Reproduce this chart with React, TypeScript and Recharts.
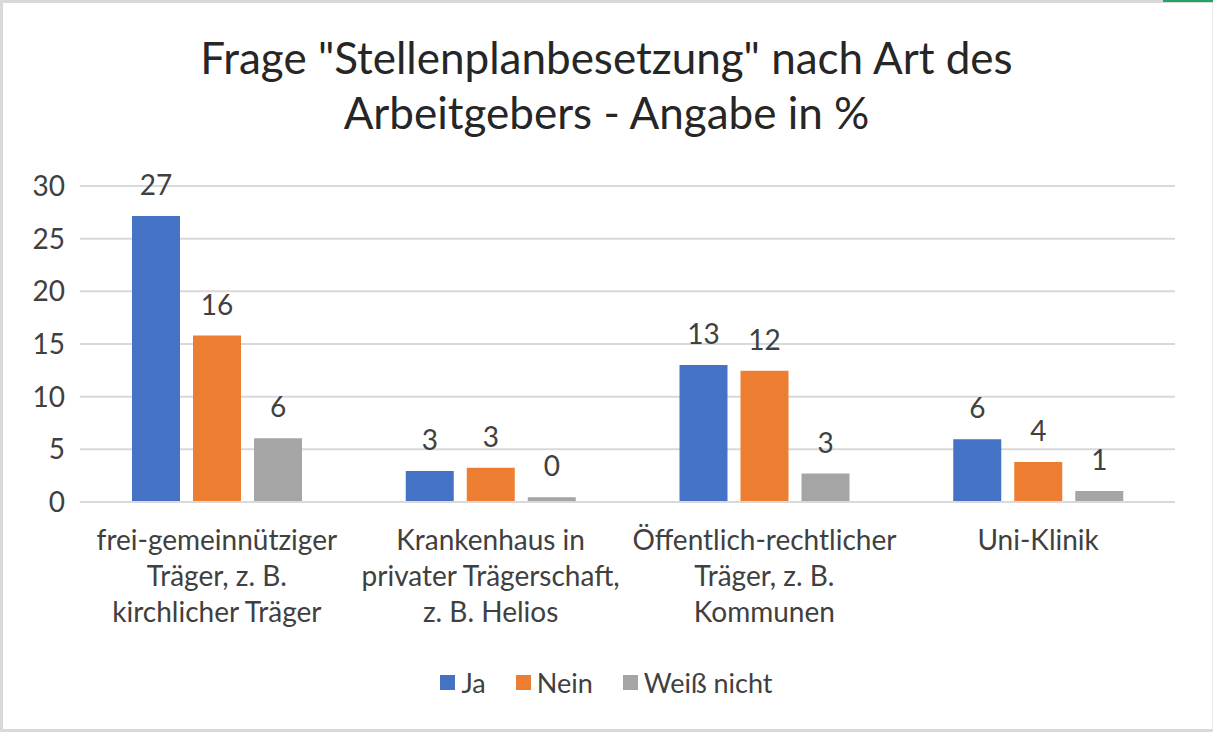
import { Bar, BarChart, CartesianGrid, LabelList, Legend, XAxis, YAxis } from "recharts";

const categories = [
  "frei-gemeinnütziger Träger, z. B. kirchlicher Träger",
  "Krankenhaus in privater Trägerschaft, z. B. Helios",
  "Öffentlich-rechtlicher Träger, z. B. Kommunen",
  "Uni-Klinik",
];
const categoryLines = [
  ["frei-gemeinnütziger", "Träger, z. B.", "kirchlicher Träger"],
  ["Krankenhaus in", "privater Trägerschaft,", "z. B. Helios"],
  ["Öffentlich-rechtlicher", "Träger, z. B.", "Kommunen"],
  ["Uni-Klinik"],
];
const ja = [27.15, 2.95, 13.0, 5.95];
const nein = [15.8, 3.25, 12.45, 3.8];
const weissNicht = [6.05, 0.45, 2.7, 1.05];
const yTicks = [0, 5, 10, 15, 20, 25, 30];

const FONT = "Lato, 'Open Sans', sans-serif";
const TEXT = "#404040";

const data = categories.map((name, i) => ({
  name,
  ja: ja[i],
  nein: nein[i],
  weiss: weissNicht[i],
}));

function CategoryTick({ x, y, payload }: any) {
  const lines = categoryLines[categories.indexOf(payload.value)] ?? [payload.value];
  return (
    <text x={x} y={y} textAnchor="middle" fill={TEXT} fontSize={28} fontFamily={FONT}>
      {lines.map((line, i) => (
        <tspan key={i} x={x} dy={i === 0 ? 40 : 36}>
          {line}
        </tspan>
      ))}
    </text>
  );
}

function LegendContent({ payload }: any) {
  return (
    <div style={{ display: "flex", justifyContent: "center", gap: 30, fontFamily: FONT, fontSize: 27, color: TEXT }}>
      {(payload ?? []).map((entry: any) => (
        <div key={entry.value} style={{ display: "flex", alignItems: "center", gap: 6 }}>
          <span style={{ width: 15, height: 15, background: entry.color, display: "inline-block" }} />
          <span>{entry.value}</span>
        </div>
      ))}
    </div>
  );
}

const labelStyle = { fill: TEXT, fontSize: 28, fontFamily: FONT };
const round = (v: any) => Math.round(Number(v));

export default function App() {
  return (
    <div style={{ position: "absolute", left: 0, top: 0, width: 1213, height: 732, background: "#fff" }}>
      <div
        style={{
          position: "absolute",
          left: 0,
          top: 30,
          width: 1213,
          textAlign: "center",
          fontFamily: FONT,
          fontSize: 44,
          lineHeight: "55px",
          color: "#262626",
        }}
      >
        Frage "Stellenplanbesetzung" nach Art des
        <br />
        Arbeitgebers - Angabe in %
      </div>
      <BarChart
        width={1213}
        height={732}
        data={data}
        margin={{ top: 186, right: 38, bottom: 0, left: 0 }}
        barCategoryGap="19%"
        barGap={13}
      >
        <CartesianGrid vertical={false} stroke="#d9d9d9" strokeWidth={2} />
        <XAxis
          dataKey="name"
          height={230}
          axisLine={{ stroke: "#d9d9d9", strokeWidth: 2 }}
          tickLine={false}
          interval={0}
          tick={<CategoryTick />}
        />
        <YAxis
          width={80}
          domain={[0, 30]}
          ticks={yTicks}
          axisLine={false}
          tickLine={false}
          tickSize={0}
          tickMargin={15}
          tick={{ fill: TEXT, fontSize: 28, fontFamily: FONT }}
        />
        <Legend
          verticalAlign="middle"
          align="center"
          layout="horizontal"
          wrapperStyle={{ top: 666, left: 0, width: 1213 }}
          content={<LegendContent />}
        />
        <Bar dataKey="ja" name="Ja" fill="#4472C4" barSize={48} isAnimationActive={false}>
          <LabelList dataKey="ja" position="top" offset={21} formatter={round} style={labelStyle} />
        </Bar>
        <Bar dataKey="nein" name="Nein" fill="#ED7D31" barSize={48} isAnimationActive={false}>
          <LabelList dataKey="nein" position="top" offset={21} formatter={round} style={labelStyle} />
        </Bar>
        <Bar dataKey="weiss" name="Weiß nicht" fill="#A5A5A5" barSize={48} isAnimationActive={false}>
          <LabelList dataKey="weiss" position="top" offset={21} formatter={round} style={labelStyle} />
        </Bar>
      </BarChart>
      <div
        style={{
          position: "absolute",
          inset: 0,
          boxSizing: "border-box",
          borderTop: "3px solid #d9d9d9",
          borderLeft: "3px solid #d9d9d9",
          borderBottom: "3px solid #d9d9d9",
          borderRight: "1px solid #ececec",
          pointerEvents: "none",
        }}
      />
      <div style={{ position: "absolute", right: 0, top: 0, width: 50, height: 2, background: "#21a366" }} />
    </div>
  );
}
